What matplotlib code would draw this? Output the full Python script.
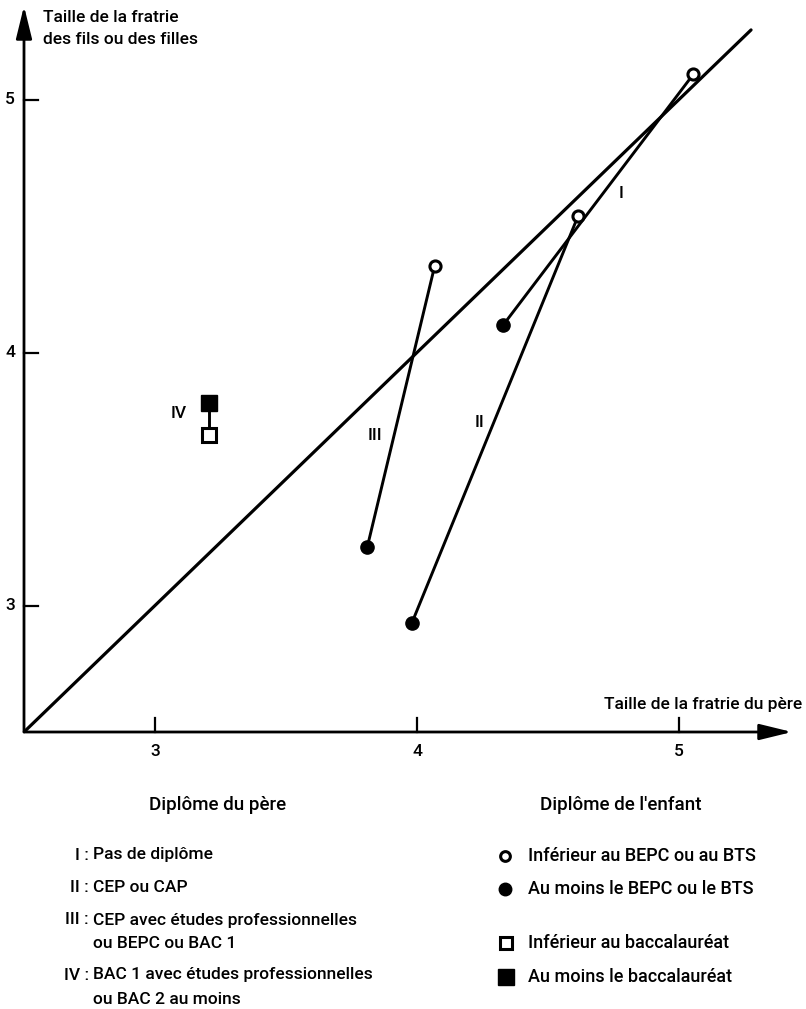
import numpy as np
import matplotlib
matplotlib.use("Agg")
import matplotlib.pyplot as plt

plt.rcParams['font.family'] = ['Roboto', 'DejaVu Sans']
plt.rcParams['font.weight'] = 'medium'

# données (taille de la fratrie)
groupes = ["I", "II", "III"]
pere_bas = [4.33, 3.98, 3.81]      # diplome enfant : au moins BEPC/BTS (points pleins)
fils_bas = [4.11, 2.93, 3.23]
pere_haut = [5.055, 4.615, 4.067]  # diplome enfant : inferieur au BEPC/BTS (cercles)
fils_haut = [5.10, 4.54, 4.34]

# groupe IV : carres
pere_iv = 3.205
fils_iv_bac = 3.80    # au moins le baccalaureat
fils_iv_inf = 3.675   # inferieur au baccalaureat

diag = [2.5, 5.275]
ticks = [3, 4, 5]

# positions des etiquettes de groupe
etiq_x = [4.78, 4.24, 3.84, 3.09]
etiq_y = [4.63, 3.725, 3.67, 3.76]
etiq = ["I", "II", "III", "IV"]

W, H = 806, 1009
fig = plt.figure(figsize=(W / 100, H / 100), dpi=100)
x0, y0, x1, y1 = 24, 732, 792, 6
ax = fig.add_axes([x0 / W, 1 - y0 / H, (x1 - x0) / W, (y0 - y1) / H])
xmax = 2.5 + (x1 - x0) / 262
ymax = 2.5 + (y0 - y1) / 253
ax.set_xlim(2.5, xmax)
ax.set_ylim(2.5, ymax)
ax.axis('off')

# axes avec fleches
fleche = dict(arrowstyle='-|>,head_length=0.9,head_width=0.22', lw=2.0, color='k',
              mutation_scale=22, shrinkA=0, shrinkB=0)
ax.annotate('', xy=(xmax, 2.5), xytext=(2.5, 2.5), annotation_clip=False, arrowprops=fleche)
ax.annotate('', xy=(2.5, ymax), xytext=(2.5, 2.5), annotation_clip=False, arrowprops=fleche)
for t in ticks:
    ax.plot([t, t], [2.5, 2.5 + 14 / 253], color='k', lw=1.6, clip_on=False)
    ax.text(t, 2.5 - 19 / 253, str(t), ha='center', va='center', fontsize=12.5)
    ax.plot([2.5, 2.5 + 14 / 262], [t, t], color='k', lw=1.6, clip_on=False)
    ax.text(2.5 - 14 / 262, t, str(t), ha='center', va='center', fontsize=12.5)

# diagonale
ax.plot(diag, diag, color='k', lw=2.3, solid_capstyle='round')

# segments des groupes
for i in range(len(groupes)):
    ax.plot([pere_bas[i], pere_haut[i]], [fils_bas[i], fils_haut[i]], color='k', lw=2.1, zorder=2)
ax.plot(pere_bas, fils_bas, 'o', color='k', ms=9.5, zorder=3)
ax.plot(pere_haut, fils_haut, 'o', mfc='white', mec='k', mew=2.2, ms=8, zorder=3)

ax.plot([pere_iv, pere_iv], [fils_iv_inf, fils_iv_bac], color='k', lw=2.1, zorder=2)
ax.plot([pere_iv], [fils_iv_bac], 's', color='k', ms=11, zorder=3)
ax.plot([pere_iv], [fils_iv_inf], 's', mfc='white', mec='k', mew=2.2, ms=9.5, zorder=3)

for lx, ly, s in zip(etiq_x, etiq_y, etiq):
    ax.text(lx, ly, s, ha='center', va='center', fontsize=12.5)

def ft(x, y, s, **kw):
    fig.text(x / W, 1 - y / H, s, **kw)

ft(43, 17, "Taille de la fratrie", ha='left', va='center', fontsize=12.5)
ft(43, 40, "des fils ou des filles", ha='left', va='center', fontsize=12.5)
ft(802, 705, "Taille de la fratrie du père", ha='right', va='center', fontsize=12.5)

# legendes
ft(218, 805, "Diplôme du père", ha='center', va='center', fontsize=13.5)
ft(621, 805, "Diplôme de l'enfant", ha='center', va='center', fontsize=13.5)

num_pere = ["I :", "II :", "III :", "IV :"]
txt_pere = [["Pas de diplôme"],
            ["CEP ou CAP"],
            ["CEP avec études professionnelles", "ou BEPC ou BAC 1"],
            ["BAC 1 avec études professionnelles", "ou BAC 2 au moins"]]
y_pere = [855, 887, 920, 975]
for num, lignes, y in zip(num_pere, txt_pere, y_pere):
    ft(89, y, num, ha='right', va='center', fontsize=12.5)
    for k, s in enumerate(lignes):
        ft(93, y + 24 * k, s, ha='left', va='center', fontsize=12.5)

leg_y = [856, 889, 943, 977]
leg_txt = ["Inférieur au BEPC ou au BTS", "Au moins le BEPC ou le BTS",
           "Inférieur au baccalauréat", "Au moins le baccalauréat"]
leg_ax = fig.add_axes([0, 0, 1, 1], facecolor='none')
leg_ax.set_xlim(0, W)
leg_ax.set_ylim(H, 0)
leg_ax.axis('off')
leg_ax.plot([505], [leg_y[0]], 'o', mfc='white', mec='k', mew=2.2, ms=7)
leg_ax.plot([505], [leg_y[1]], 'o', color='k', ms=9)
leg_ax.plot([506], [leg_y[2]], 's', mfc='white', mec='k', mew=2.2, ms=9)
leg_ax.plot([506], [leg_y[3]], 's', color='k', ms=11)
for y, s in zip(leg_y, leg_txt):
    leg_ax.text(528, y, s, ha='left', va='center', fontsize=13)

fig.savefig("out.png", dpi=100)
